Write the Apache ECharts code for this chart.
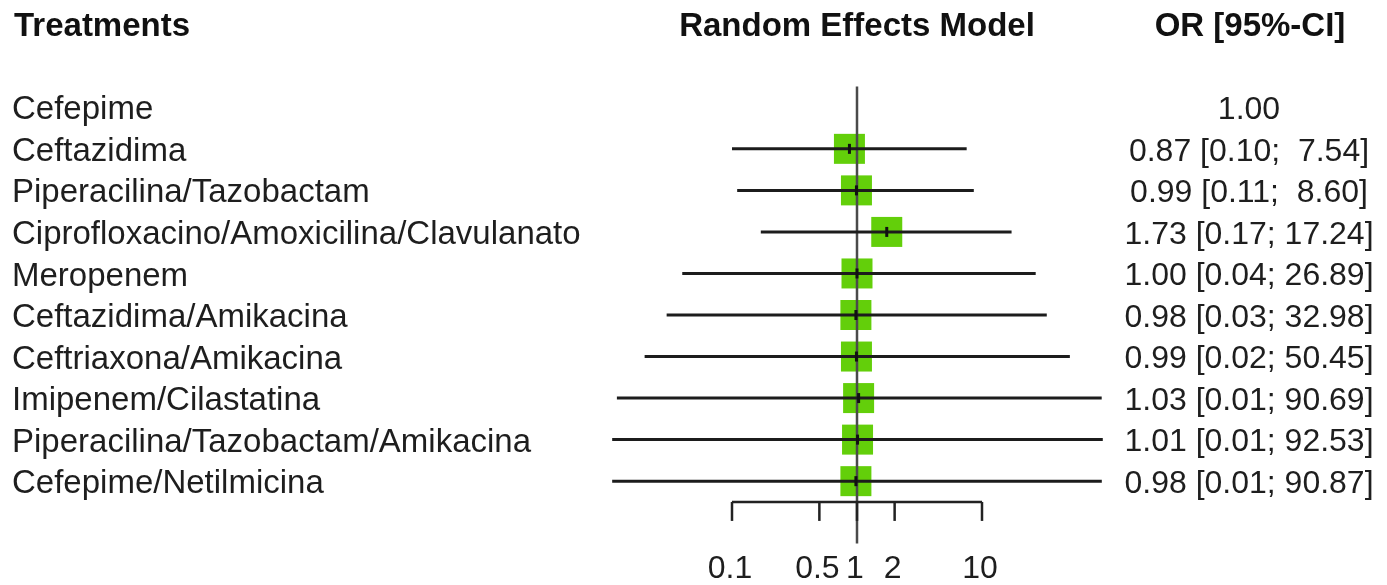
<!DOCTYPE html>
<html>
<head>
<meta charset="utf-8">
<script src="https://cdn.jsdelivr.net/npm/echarts@6/dist/echarts.min.js"></script>
<style>
  html, body { margin: 0; padding: 0; background: #ffffff; }
  #chart { width: 1387px; height: 585px; }
</style>
</head>
<body>
<div id="chart"></div>
<script>
// ---- data ----
const treatments = [
  'Cefepime',
  'Ceftazidima',
  'Piperacilina/Tazobactam',
  'Ciprofloxacino/Amoxicilina/Clavulanato',
  'Meropenem',
  'Ceftazidima/Amikacina',
  'Ceftriaxona/Amikacina',
  'Imipenem/Cilastatina',
  'Piperacilina/Tazobactam/Amikacina',
  'Cefepime/Netilmicina'
];
const orValues = [1.00, 0.87, 0.99, 1.73, 1.00, 0.98, 0.99, 1.03, 1.01, 0.98];
const ciLower  = [null, 0.10, 0.11, 0.17, 0.04, 0.03, 0.02, 0.012, 0.011, 0.011];
const ciUpper  = [null, 7.54, 8.60, 17.24, 26.89, 32.98, 50.45, 90.69, 92.53, 90.87];
const axisTicks = [0.1, 0.5, 1, 2, 10];
const axisTickLabels = ['0.1', '0.5', '1', '2', '10'];
const headers = { left: 'Treatments', middle: 'Random Effects Model', right: 'OR [95%-CI]' };

// ---- style constants ----
const FONT = '"Liberation Sans", Arial, Helvetica, sans-serif';
const GREEN = '#63cf0a';
const AXIS_ROW = 9.5;
const REF_TOP = -0.5, REF_BOTTOM = 10.5;
const COL_X = 1249;

function ciText(i) {
  if (ciLower[i] == null) return orValues[i].toFixed(2);
  let hi = ciUpper[i].toFixed(2);
  while (hi.length < 5) hi = ' ' + hi;
  return orValues[i].toFixed(2) + ' [' + ciLower[i].toFixed(2) + '; ' + hi + ']';
}

const rows = treatments.map((t, i) => i);
const chart = echarts.init(document.getElementById('chart'), null, { renderer: 'canvas' });

chart.setOption({
  animation: false,
  backgroundColor: '#ffffff',
  grid: { left: 607, width: 500, top: 45, height: 541 },
  xAxis: { type: 'log', logBase: 10, min: 0.01, max: 100, show: false },
  yAxis: { type: 'value', min: -1.5, max: 11.5, inverse: true, show: false },
  graphic: [
    { type: 'text', x: 14, y: 27, style: { text: headers.left, font: 'bold 33px ' + FONT, fill: '#111', align: 'left', verticalAlign: 'middle' } },
    { type: 'text', x: 857, y: 27, style: { text: headers.middle, font: 'bold 33px ' + FONT, fill: '#111', align: 'center', verticalAlign: 'middle' } },
    { type: 'text', x: 1250, y: 27, style: { text: headers.right, font: 'bold 33px ' + FONT, fill: '#111', align: 'center', verticalAlign: 'middle' } }
  ],
  series: [
    // squares
    {
      type: 'custom', z: 2, clip: false,
      data: rows.filter(i => ciLower[i] != null).map(i => [orValues[i], i]),
      renderItem: function (params, api) {
        const c = api.coord([api.value(0), api.value(1)]);
        return { type: 'rect', shape: { x: c[0] - 15.5, y: c[1] - 15, width: 31, height: 30 }, style: { fill: GREEN } };
      }
    },
    // reference line at OR = 1
    {
      type: 'custom', z: 3, clip: false,
      data: [[1]],
      renderItem: function (params, api) {
        const a = api.coord([api.value(0), REF_TOP]);
        const b = api.coord([api.value(0), REF_BOTTOM]);
        return { type: 'line', shape: { x1: a[0], y1: a[1], x2: b[0], y2: b[1] }, style: { stroke: '#4a4a4a', lineWidth: 2.5 } };
      }
    },
    // confidence intervals
    {
      type: 'custom', z: 4, clip: false,
      data: rows.filter(i => ciLower[i] != null).map(i => [ciLower[i], ciUpper[i], i]),
      renderItem: function (params, api) {
        const a = api.coord([api.value(0), api.value(2)]);
        const b = api.coord([api.value(1), api.value(2)]);
        return { type: 'line', shape: { x1: a[0], y1: a[1], x2: b[0], y2: b[1] }, style: { stroke: '#1c1c1c', lineWidth: 3 } };
      }
    },
    // point estimate marks
    {
      type: 'custom', z: 5, clip: false,
      data: rows.filter(i => ciLower[i] != null).map(i => [orValues[i], i]),
      renderItem: function (params, api) {
        const c = api.coord([api.value(0), api.value(1)]);
        return { type: 'rect', shape: { x: c[0] - 1.5, y: c[1] - 5, width: 3, height: 10 }, style: { fill: '#111' } };
      }
    },
    // treatment labels
    {
      type: 'custom', z: 6, clip: false,
      data: rows.map(i => [1, i]),
      renderItem: function (params, api) {
        const c = api.coord([api.value(0), api.value(1)]);
        return { type: 'text', x: 12, y: c[1] + 3, style: { text: treatments[params.dataIndex], font: '33px ' + FONT, fill: '#1e1e1e', textAlign: 'left', textVerticalAlign: 'middle' } };
      }
    },
    // OR [95%-CI] column
    {
      type: 'custom', z: 6, clip: false,
      data: rows.map(i => [1, i]),
      renderItem: function (params, api) {
        const c = api.coord([api.value(0), api.value(1)]);
        return { type: 'text', x: COL_X, y: c[1] + 3, style: { text: ciText(params.dataIndex), font: '32px ' + FONT, fill: '#1e1e1e', textAlign: 'center', textVerticalAlign: 'middle' } };
      }
    },
    // x axis (drawn from 0.1 to 10 only)
    {
      type: 'custom', z: 6, clip: false,
      data: [[axisTicks[0], axisTicks[axisTicks.length - 1]]],
      renderItem: function (params, api) {
        const a = api.coord([api.value(0), AXIS_ROW]);
        const b = api.coord([api.value(1), AXIS_ROW]);
        const children = [
          { type: 'line', shape: { x1: a[0], y1: a[1], x2: b[0], y2: b[1] }, style: { stroke: '#222', lineWidth: 2.5 } }
        ];
        axisTicks.forEach(function (t, k) {
          const p = api.coord([t, AXIS_ROW]);
          children.push({ type: 'line', shape: { x1: p[0], y1: p[1], x2: p[0], y2: p[1] + 19 }, style: { stroke: '#222', lineWidth: 2.5 } });
          children.push({ type: 'text', x: p[0] - 2, y: p[1] + 67, style: { text: axisTickLabels[k], font: '32px ' + FONT, fill: '#1e1e1e', textAlign: 'center', textVerticalAlign: 'middle' } });
        });
        return { type: 'group', children: children };
      }
    }
  ]
});
</script>
</body>
</html>
